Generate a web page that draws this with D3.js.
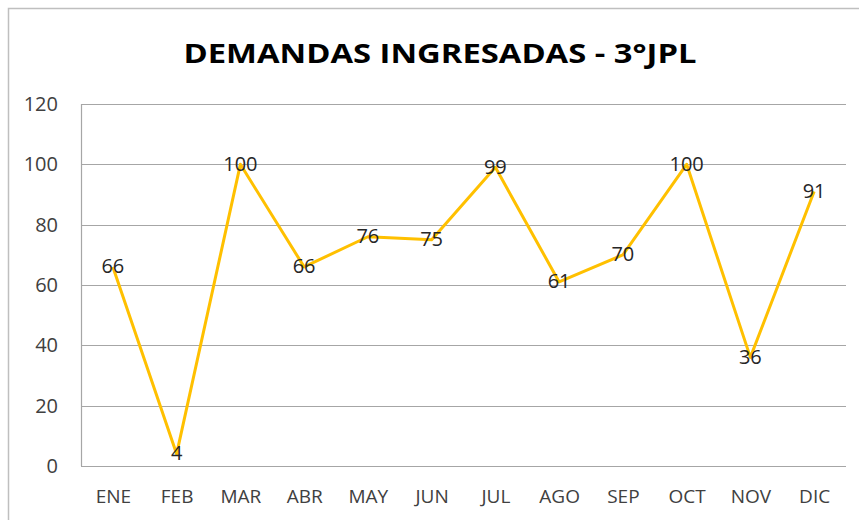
<!DOCTYPE html>
<html>
<head>
<meta charset="utf-8">
<script src="https://cdn.jsdelivr.net/npm/d3@7"></script>
<style>
  body { margin: 0; background: #fff; }
  text { font-family: "Open Sans", "Noto Sans", sans-serif; }
</style>
</head>
<body>
<div id="chart"></div>
<script>
var months = ["ENE", "FEB", "MAR", "ABR", "MAY", "JUN", "JUL", "AGO", "SEP", "OCT", "NOV", "DIC"];
var demandas = [66, 4, 100, 66, 76, 75, 99, 61, 70, 100, 36, 91];
var yTicks = [0, 20, 40, 60, 80, 100, 120];
var title = "DEMANDAS INGRESADAS - 3°JPL";

var w = 859;
var h = 520;
var margin = { top: 104, right: 13, bottom: 54, left: 81 };

var svg = d3.select("#chart")
            .append("svg")
            .attr("width", w)
            .attr("height", h);

// chart border (runs past the right and bottom edges)
svg.append("rect")
   .attr("x", 8.5)
   .attr("y", 8.5)
   .attr("width", w + 20)
   .attr("height", h + 20)
   .attr("fill", "#fff")
   .attr("stroke", "#bfbfbf")
   .attr("stroke-width", 1.5);

var xscale = d3.scalePoint().domain(months)
               .range([margin.left, w - margin.right]).padding(0.5);
var yscale = d3.scaleLinear().domain([0, 120])
               .range([h - margin.bottom, margin.top]);

// gridlines
svg.append("g")
   .selectAll("line")
   .data(yTicks)
   .enter()
   .append("line")
   .attr("x1", margin.left)
   .attr("x2", w - margin.right)
   .attr("y1", d => Math.round(yscale(d)) + 0.5)
   .attr("y2", d => Math.round(yscale(d)) + 0.5)
   .attr("stroke", "#a6a6a6")
   .attr("stroke-width", 1.2);

// y axis line
svg.append("line")
   .attr("x1", margin.left + 0.5)
   .attr("x2", margin.left + 0.5)
   .attr("y1", yscale(120))
   .attr("y2", yscale(0))
   .attr("stroke", "#a6a6a6")
   .attr("stroke-width", 1.2);

// y axis labels
var yAxis = svg.append("g")
   .attr("transform", `translate(${margin.left}, 0)`)
   .call(d3.axisLeft(yscale).tickValues(yTicks).tickSize(0).tickPadding(23));
yAxis.select(".domain").remove();
yAxis.selectAll("text")
     .style("font-size", "20px")
     .attr("fill", "#404040");

// x axis labels
var xAxis = svg.append("g")
   .attr("transform", `translate(0, ${h - margin.bottom})`)
   .call(d3.axisBottom(xscale).tickSize(0).tickPadding(24));
xAxis.select(".domain").remove();
xAxis.selectAll("text")
     .style("font-size", "19px")
     .attr("fill", "#404040");

// line
var line = d3.line()
             .x((d, i) => xscale(months[i]))
             .y(d => yscale(d));

svg.append("path")
   .datum(demandas)
   .attr("d", line)
   .attr("fill", "none")
   .attr("stroke", "#ffc000")
   .attr("stroke-width", 3)
   .attr("stroke-linejoin", "round");

// data labels, centered on the points
svg.selectAll("text.lbl")
   .data(demandas)
   .enter()
   .append("text")
   .attr("class", "lbl")
   .attr("x", (d, i) => xscale(months[i]))
   .attr("y", d => yscale(d) + 1)
   .attr("text-anchor", "middle")
   .attr("dominant-baseline", "middle")
   .style("font-size", "20px")
   .attr("fill", "#262626")
   .text(d => d);

// title
svg.append("text")
   .attr("x", 440)
   .attr("y", 63)
   .attr("text-anchor", "middle")
   .style("font-size", "27px")
   .style("font-weight", "bold")
   .attr("fill", "#000")
   .attr("textLength", 513)
   .attr("lengthAdjust", "spacingAndGlyphs")
   .text(title);
</script>
</body>
</html>
